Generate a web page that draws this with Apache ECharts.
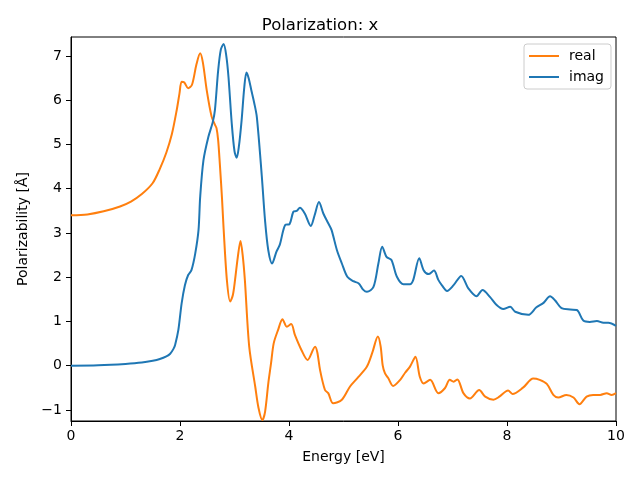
<!DOCTYPE html>
<html>
<head>
<meta charset="utf-8">
<script src="https://cdn.jsdelivr.net/npm/echarts@6/dist/echarts.min.js"></script>
<style>html,body{margin:0;padding:0;background:#fff}#c{width:640px;height:480px}</style>
</head>
<body>
<div id="c"></div>
<script>
const energyReal = [0,0.3,0.6,0.9,1.1,1.3,1.5,1.63,1.75,1.85,1.94,1.99,2.03,2.08,2.15,2.22,2.30,2.37,2.42,2.49,2.58,2.64,2.67,2.70,2.73,2.77,2.80,2.86,2.92,2.97,3.01,3.06,3.11,3.15,3.19,3.27,3.38,3.44,3.51,3.56,3.62,3.67,3.72,3.80,3.88,3.96,4.04,4.11,4.23,4.34,4.48,4.52,4.57,4.66,4.72,4.81,4.97,5.12,5.27,5.43,5.53,5.63,5.68,5.72,5.76,5.82,5.91,6.04,6.13,6.22,6.32,6.40,6.47,6.59,6.74,6.86,6.95,7.02,7.09,7.20,7.32,7.49,7.60,7.75,7.86,8.02,8.10,8.30,8.48,8.60,8.73,8.85,8.94,9.09,9.22,9.33,9.46,9.58,9.71,9.83,9.92,10];
const realValues = [3.40,3.42,3.49,3.60,3.71,3.88,4.13,4.45,4.82,5.23,5.78,6.15,6.42,6.40,6.27,6.35,6.80,7.06,6.85,6.23,5.63,5.45,5.37,5.10,4.58,3.80,3.10,1.94,1.45,1.60,1.94,2.45,2.82,2.50,1.94,0.43,-0.47,-0.95,-1.23,-1.05,-0.40,0.05,0.51,0.81,1.05,0.88,0.94,0.69,0.35,0.13,0.43,0.30,-0.10,-0.55,-0.62,-0.85,-0.77,-0.47,-0.26,-0.02,0.30,0.66,0.45,0.00,-0.17,-0.28,-0.46,-0.32,-0.16,-0.02,0.20,-0.25,-0.40,-0.32,-0.62,-0.51,-0.32,-0.36,-0.31,-0.62,-0.74,-0.55,-0.70,-0.77,-0.70,-0.56,-0.64,-0.49,-0.29,-0.32,-0.41,-0.66,-0.72,-0.66,-0.72,-0.87,-0.70,-0.66,-0.66,-0.62,-0.66,-0.62];
const energyImag = [0,0.5,1.0,1.3,1.5,1.63,1.75,1.82,1.88,1.91,1.97,2.03,2.09,2.15,2.21,2.28,2.34,2.37,2.43,2.52,2.60,2.64,2.70,2.75,2.80,2.85,2.89,2.95,3.00,3.04,3.08,3.13,3.18,3.22,3.26,3.31,3.36,3.41,3.50,3.56,3.62,3.69,3.77,3.83,3.93,4.01,4.08,4.14,4.20,4.29,4.40,4.47,4.55,4.63,4.72,4.78,4.88,4.97,5.07,5.18,5.28,5.36,5.43,5.55,5.64,5.71,5.79,5.88,5.98,6.10,6.22,6.28,6.39,6.47,6.56,6.66,6.74,6.81,6.90,7.02,7.16,7.29,7.44,7.55,7.69,7.81,7.93,8.06,8.15,8.39,8.54,8.67,8.79,8.88,9.00,9.16,9.28,9.40,9.52,9.65,9.77,9.86,10];
const imagValues = [0,0.01,0.04,0.07,0.11,0.15,0.21,0.27,0.38,0.47,0.81,1.41,1.82,2.05,2.16,2.54,3.07,3.81,4.64,5.17,5.50,5.77,6.67,7.15,7.27,7.00,6.52,5.47,4.85,4.70,4.95,5.54,6.30,6.63,6.50,6.22,5.95,5.62,4.30,3.29,2.61,2.31,2.58,2.73,3.18,3.20,3.48,3.50,3.57,3.44,3.16,3.40,3.70,3.44,3.22,3.07,2.61,2.31,2.01,1.91,1.86,1.72,1.67,1.78,2.31,2.69,2.46,2.39,2.01,1.84,1.84,1.94,2.43,2.16,2.07,2.15,1.94,1.81,1.69,1.82,2.03,1.75,1.57,1.71,1.55,1.37,1.28,1.33,1.22,1.15,1.32,1.42,1.57,1.48,1.30,1.27,1.26,1.02,0.99,1.01,0.97,0.97,0.90];
const yTicks = [-1,0,1,2,3,4,5,6,7];
const seriesNames = ['real','imag'];
const colors = ['#ff7f0e','#1f77b4'];

const zip = (xs, ys) => xs.map((x, i) => [x, ys[i]]);
const fmt = v => String(v).replace('-', '\u2212');
const font = 'DejaVu Sans';

const chart = echarts.init(document.getElementById('c'), null, {renderer: 'canvas'});
chart.setOption({
  animation: false,
  backgroundColor: '#fff',
  title: {
    text: 'Polarization: x', left: 'center', top: 12,
    textStyle: {fontFamily: font, fontSize: 16.5, fontWeight: 'normal', color: '#000'}
  },
  legend: {
    data: seriesNames, orient: 'vertical', left: 524, top: 44,
    padding: [5, 7, 5, 5], itemGap: 7, itemWidth: 30, itemHeight: 2, icon: 'rect',
    borderColor: '#cccccc', borderWidth: 1, borderRadius: 3,
    backgroundColor: 'rgba(255,255,255,0.8)',
    textStyle: {fontFamily: font, fontSize: 14, color: '#000', padding: [0, 0, 0, 5]}
  },
  grid: {left: 71, right: 24, top: 37, bottom: 59, show: true, borderColor: '#000', borderWidth: 1, backgroundColor: 'transparent'},
  xAxis: {
    type: 'value', min: 0, max: 10, interval: 2,
    name: 'Energy [eV]', nameLocation: 'middle', nameGap: 29,
    nameTextStyle: {fontFamily: font, fontSize: 14, color: '#000'},
    axisLine: {onZero: false, lineStyle: {color: '#000', width: 1}},
    axisTick: {length: 5, lineStyle: {color: '#000'}},
    axisLabel: {fontFamily: font, fontSize: 14, color: '#000', margin: 8, formatter: fmt},
    splitLine: {show: false}
  },
  yAxis: {
    type: 'value', min: -1.25, max: 7.43,
    name: 'Polarizability [Å]', nameLocation: 'middle', nameGap: 33, nameRotate: 90,
    nameTextStyle: {fontFamily: font, fontSize: 14, color: '#000'},
    axisLine: {show: true, onZero: false, lineStyle: {color: '#000', width: 1}},
    axisTick: {show: true, length: 5, lineStyle: {color: '#000'}, customValues: yTicks},
    axisLabel: {fontFamily: font, fontSize: 14, color: '#000', margin: 9, formatter: fmt, customValues: yTicks},
    splitLine: {show: false}
  },
  series: [
    {name: seriesNames[0], type: 'line', data: zip(energyReal, realValues), showSymbol: false, smooth: 0.3,
     lineStyle: {color: colors[0], width: 2}, itemStyle: {color: colors[0]}},
    {name: seriesNames[1], type: 'line', data: zip(energyImag, imagValues), showSymbol: false, smooth: 0.3,
     lineStyle: {color: colors[1], width: 2}, itemStyle: {color: colors[1]}}
  ]
});
</script>
</body>
</html>
